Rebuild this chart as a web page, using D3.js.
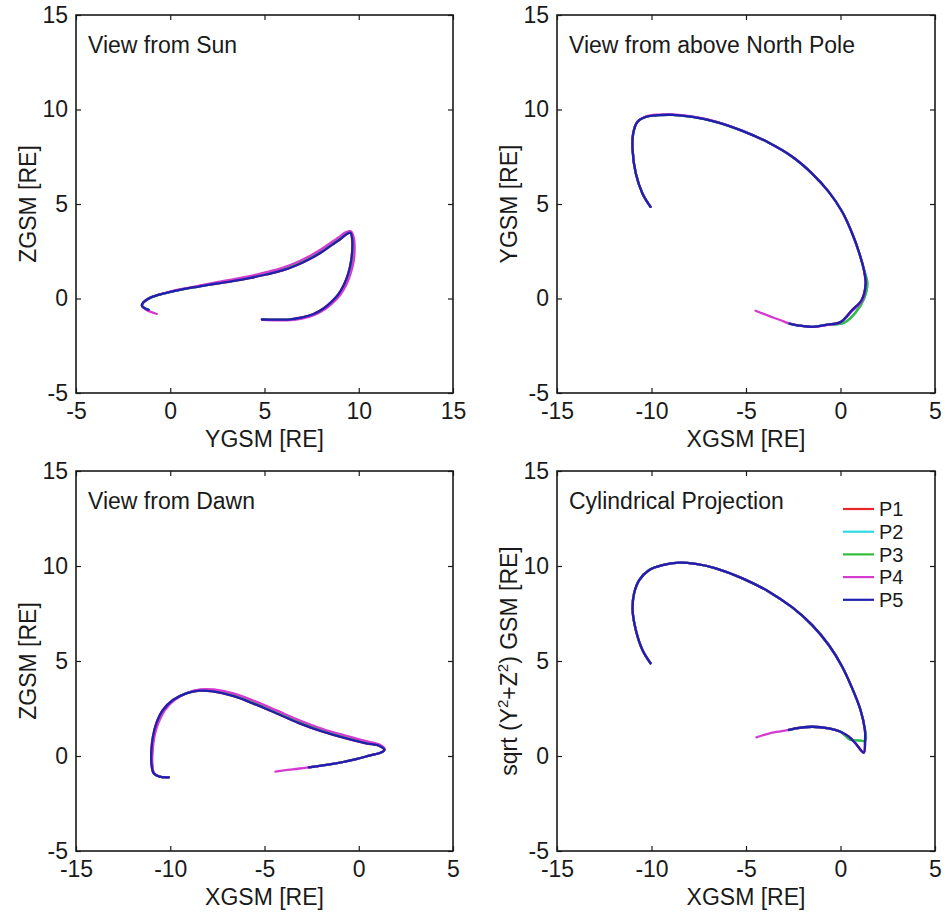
<!DOCTYPE html>
<html><head><meta charset="utf-8">
<script src="https://cdn.jsdelivr.net/npm/d3@7"></script>
<style>
body{margin:0;background:#fff}
text{font-family:"Liberation Sans",Arial,Helvetica,sans-serif;fill:#1a1a1a}
</style>
</head><body>
<svg id="chart" width="952" height="913"></svg>
<script>
// ---------- series ----------
const seriesNames = ["P1","P2","P3","P4","P5"];
const seriesColors = ["#e8262a","#2ed8e6","#2fbf3a","#d53bd0","#1f1fb0"];

// ---------- tick labels ----------
const ticksYGSM = [-5,0,5,10,15];
const ticksXGSM = [-15,-10,-5,0,5];
const ticksVert = [-5,0,5,10,15];

// ---------- View from Sun (YGSM, ZGSM) ----------
const sunP5 = [[4.86,-1.11],[5.6,-1.12],[6.36,-1.1],[7.0,-1.0],[7.6,-0.82],[8.13,-0.53],[8.55,-0.18],[8.9,0.2],[9.2,0.7],[9.45,1.35],[9.6,2.03],[9.66,2.7],[9.65,3.15],[9.56,3.48],[9.35,3.4],[9.0,3.12],[8.6,2.85],[8.1,2.5],[7.5,2.14],[6.8,1.8],[6.0,1.5],[5.1,1.27],[4.2,1.08],[3.3,0.92],[2.4,0.78],[1.5,0.63],[0.7,0.5],[0,0.35],[-0.6,0.2],[-1.1,0.02],[-1.42,-0.2],[-1.5,-0.38],[-1.35,-0.52],[-1.15,-0.6]];
const sunP3 = [[4.88,-1.12],[5.6,-1.13],[6.38,-1.12],[7.02,-1.02],[7.64,-0.84],[8.18,-0.55],[8.6,-0.19],[8.96,0.2],[9.27,0.7],[9.52,1.35],[9.67,2.03],[9.72,2.7],[9.7,3.17],[9.57,3.52],[9.33,3.45],[8.98,3.18],[8.58,2.92],[8.08,2.57],[7.48,2.2],[6.78,1.86],[5.98,1.56],[5.08,1.32],[4.2,1.12],[3.3,0.95],[2.4,0.8],[1.5,0.64],[0.7,0.5],[0,0.35],[-0.6,0.2],[-1.1,0.02],[-1.42,-0.2],[-1.5,-0.38],[-1.35,-0.52],[-1.15,-0.6]];
const sunP4 = [[4.9,-1.13],[5.6,-1.15],[6.4,-1.14],[7.05,-1.05],[7.68,-0.86],[8.22,-0.56],[8.66,-0.2],[9.02,0.2],[9.33,0.7],[9.58,1.35],[9.74,2.03],[9.78,2.7],[9.74,3.2],[9.58,3.56],[9.3,3.5],[8.95,3.24],[8.55,2.98],[8.05,2.63],[7.45,2.27],[6.75,1.93],[5.95,1.62],[5.05,1.38],[4.15,1.17],[3.25,1.0],[2.35,0.84],[1.5,0.67],[0.7,0.52],[0,0.37],[-0.6,0.21],[-1.1,0.03],[-1.42,-0.2],[-1.5,-0.4],[-1.3,-0.58],[-1.0,-0.72],[-0.71,-0.82]];

// ---------- View from above North Pole (XGSM, YGSM) ----------
const northP5 = [[-10.05,4.85],[-10.48,5.56],[-10.83,6.61],[-11.0,7.85],[-10.97,8.73],[-10.74,9.35],[-10.3,9.61],[-9.6,9.7],[-8.89,9.72],[-7.83,9.61],[-6.6,9.35],[-5.19,8.87],[-3.79,8.24],[-2.55,7.5],[-1.5,6.61],[-0.62,5.64],[0.09,4.59],[0.62,3.44],[1.0,2.38],[1.25,1.45],[1.33,0.8],[1.12,-0.08],[0.6,-0.62],[0,-1.25],[-0.7,-1.38],[-1.45,-1.5],[-2.2,-1.43],[-2.7,-1.33]];
const northP3 = [[-10.05,4.85],[-10.48,5.56],[-10.83,6.61],[-11.0,7.85],[-10.97,8.73],[-10.74,9.35],[-10.3,9.61],[-9.6,9.7],[-8.89,9.72],[-7.83,9.61],[-6.6,9.35],[-5.19,8.87],[-3.79,8.24],[-2.55,7.5],[-1.5,6.61],[-0.62,5.64],[0.09,4.59],[0.62,3.44],[1.0,2.38],[1.27,1.45],[1.42,0.8],[1.25,0.0],[0.8,-0.74],[0.2,-1.28],[-0.7,-1.4],[-1.45,-1.5],[-2.2,-1.43],[-2.7,-1.33]];
const northP4 = [[-10.05,4.85],[-10.48,5.56],[-10.83,6.61],[-11.0,7.85],[-10.97,8.73],[-10.74,9.35],[-10.3,9.63],[-9.6,9.73],[-8.89,9.74],[-7.83,9.62],[-6.6,9.36],[-5.19,8.87],[-3.79,8.24],[-2.55,7.5],[-1.5,6.61],[-0.62,5.64],[0.09,4.59],[0.62,3.44],[1.0,2.38],[1.25,1.45],[1.33,0.8],[1.15,-0.1],[0.62,-0.66],[0,-1.27],[-0.7,-1.4],[-1.45,-1.5],[-2.2,-1.43],[-2.7,-1.33],[-3.2,-1.14],[-3.8,-0.92],[-4.49,-0.65]];

// ---------- View from Dawn (XGSM, ZGSM) ----------
const dawnP5 = [[-10.07,-1.12],[-10.57,-1.09],[-10.88,-0.91],[-11.0,-0.39],[-11.0,0.32],[-10.92,1.02],[-10.74,1.72],[-10.39,2.42],[-9.86,2.95],[-9.15,3.3],[-8.45,3.44],[-7.74,3.4],[-6.68,3.16],[-5.62,2.77],[-4.38,2.25],[-3.14,1.72],[-1.91,1.28],[-0.67,0.93],[0.39,0.67],[1.1,0.53],[1.36,0.32],[1.18,0.18],[0.57,0.02],[-0.14,-0.16],[-1.38,-0.42],[-2.65,-0.6]];
const dawnP3 = [[-10.07,-1.12],[-10.57,-1.09],[-10.87,-0.9],[-10.97,-0.39],[-10.96,0.32],[-10.88,1.02],[-10.69,1.72],[-10.33,2.42],[-9.8,2.95],[-9.1,3.32],[-8.42,3.47],[-7.72,3.45],[-6.66,3.23],[-5.61,2.85],[-4.37,2.33],[-3.13,1.8],[-1.9,1.35],[-0.66,1.0],[0.39,0.72],[1.1,0.56],[1.37,0.33],[1.18,0.18],[0.57,0.02],[-0.14,-0.16],[-1.38,-0.42],[-2.65,-0.6]];
const dawnP4 = [[-10.07,-1.12],[-10.57,-1.09],[-10.86,-0.9],[-10.95,-0.39],[-10.93,0.32],[-10.84,1.02],[-10.64,1.72],[-10.28,2.42],[-9.76,2.95],[-9.08,3.33],[-8.4,3.5],[-7.7,3.5],[-6.65,3.3],[-5.6,2.92],[-4.36,2.4],[-3.12,1.87],[-1.9,1.42],[-0.66,1.06],[0.39,0.78],[1.1,0.6],[1.38,0.35],[1.18,0.18],[0.57,0.02],[-0.14,-0.16],[-1.38,-0.42],[-2.65,-0.6],[-3.5,-0.7],[-4.42,-0.82]];

// ---------- Cylindrical Projection (XGSM, sqrt(Y²+Z²)) ----------
const cylP5 = [[-10.05,4.88],[-10.48,5.58],[-10.83,6.63],[-11.0,7.68],[-10.92,8.56],[-10.65,9.26],[-10.12,9.79],[-9.42,10.05],[-8.54,10.18],[-7.66,10.11],[-6.6,9.88],[-5.19,9.35],[-3.79,8.65],[-2.55,7.82],[-1.5,6.89],[-0.62,5.84],[0.09,4.7],[0.62,3.56],[1.06,2.42],[1.29,1.37],[1.3,0.84],[1.23,0.18],[0.79,0.67],[0.44,1.02],[0,1.28],[-0.62,1.46],[-1.5,1.54],[-2.38,1.46],[-2.73,1.37]];
const cylP3 = [[-10.05,4.88],[-10.48,5.58],[-10.83,6.63],[-11.0,7.68],[-10.92,8.56],[-10.65,9.26],[-10.12,9.79],[-9.42,10.05],[-8.54,10.18],[-7.66,10.11],[-6.6,9.88],[-5.19,9.35],[-3.79,8.65],[-2.55,7.82],[-1.5,6.89],[-0.62,5.84],[0.09,4.7],[0.62,3.56],[1.06,2.42],[1.3,1.37],[1.32,0.82],[0.9,0.82],[0.5,0.86],[0,1.28],[-0.62,1.46],[-1.5,1.54],[-2.38,1.46],[-2.73,1.37]];
const cylP4 = [[-10.05,4.88],[-10.48,5.58],[-10.83,6.63],[-11.0,7.68],[-10.92,8.56],[-10.65,9.26],[-10.12,9.79],[-9.42,10.05],[-8.54,10.18],[-7.66,10.11],[-6.6,9.88],[-5.19,9.35],[-3.79,8.65],[-2.55,7.82],[-1.5,6.89],[-0.62,5.84],[0.09,4.7],[0.62,3.56],[1.06,2.42],[1.29,1.37],[1.3,0.84],[1.23,0.18],[0.79,0.67],[0.44,1.02],[0,1.28],[-0.62,1.46],[-1.5,1.54],[-2.38,1.46],[-2.73,1.37],[-3.61,1.23],[-4.45,0.98]];

// ---------- panels ----------
const panels = [
  {left:76, top:15, w:377, h:378, xd:[-5,15], yd:[-5,15], xt:ticksYGSM, yt:ticksVert,
   title:"View from Sun", xl:"YGSM [RE]", yl:"ZGSM [RE]", series:[sunP5,sunP3,sunP3,sunP4,sunP5]},
  {left:557, top:15, w:378, h:378, xd:[-15,5], yd:[-5,15], xt:ticksXGSM, yt:ticksVert,
   title:"View from above North Pole", xl:"XGSM [RE]", yl:"YGSM [RE]", series:[northP5,northP3,northP3,northP4,northP5]},
  {left:76, top:471, w:377, h:380, xd:[-15,5], yd:[-5,15], xt:ticksXGSM, yt:ticksVert,
   title:"View from Dawn", xl:"XGSM [RE]", yl:"ZGSM [RE]", series:[dawnP5,dawnP3,dawnP3,dawnP4,dawnP5]},
  {left:557, top:471, w:378, h:380, xd:[-15,5], yd:[-5,15], xt:ticksXGSM, yt:ticksVert,
   title:"Cylindrical Projection", xl:"XGSM [RE]", yl:null, series:[cylP5,cylP3,cylP3,cylP4,cylP5], legend:true}
];

const svg = d3.select("#chart");
const FS = 23;
const fmt = d => String(d);   // plain hyphen-minus like the reference

panels.forEach(p => {
  const g = svg.append("g").attr("transform", `translate(${p.left},${p.top})`);
  const x = d3.scaleLinear().domain(p.xd).range([0, p.w]);
  const y = d3.scaleLinear().domain(p.yd).range([p.h, 0]);

  const clipId = "clip" + p.left + "_" + p.top;
  g.append("clipPath").attr("id", clipId).append("rect").attr("width", p.w).attr("height", p.h);

  // series lines
  const line = d3.line().x(d => x(d[0])).y(d => y(d[1])).curve(d3.curveCatmullRom.alpha(0.5));
  const lg = g.append("g").attr("clip-path", `url(#${clipId})`);
  p.series.forEach((s, i) => {
    lg.append("path").datum(s).attr("d", line)
      .attr("fill", "none").attr("stroke", seriesColors[i])
      .attr("stroke-width", 2.3).attr("stroke-linejoin", "round").attr("stroke-linecap", "round");
  });

  // axes (inward ticks)
  const styleAxis = sel => {
    sel.select(".domain").remove();
    sel.selectAll(".tick line").attr("stroke", "#1a1a1a").attr("stroke-width", 1.2);
    sel.selectAll(".tick text").attr("font-size", FS).attr("fill", "#1a1a1a")
      .style("font-family", '"Liberation Sans",Arial,Helvetica,sans-serif');
  };
  g.append("g").attr("transform", `translate(0,${p.h})`)
    .call(d3.axisBottom(x).tickValues(p.xt).tickSize(-5).tickPadding(10).tickFormat(fmt))
    .call(styleAxis);
  g.append("g")
    .call(d3.axisLeft(y).tickValues(p.yt).tickSize(-5).tickPadding(8).tickFormat(fmt))
    .call(styleAxis);
  g.append("g")
    .call(d3.axisTop(x).tickValues(p.xt).tickSize(-5).tickFormat(""))
    .call(styleAxis);
  g.append("g").attr("transform", `translate(${p.w},0)`)
    .call(d3.axisRight(y).tickValues(p.yt).tickSize(-5).tickFormat(""))
    .call(styleAxis);

  // frame
  g.append("rect").attr("width", p.w).attr("height", p.h)
    .attr("fill", "none").attr("stroke", "#1a1a1a").attr("stroke-width", 1.6);

  // title inside
  g.append("text").attr("x", 12).attr("y", 38).attr("font-size", FS).text(p.title);

  // x label
  g.append("text").attr("x", p.w / 2).attr("y", p.h + 54).attr("text-anchor", "middle")
    .attr("font-size", FS).text(p.xl);

  // y label
  const yl = g.append("text")
    .attr("transform", `translate(-40,${p.h / 2}) rotate(-90)`)
    .attr("text-anchor", "middle").attr("font-size", FS);
  if (p.yl) {
    yl.text(p.yl);
  } else {
    yl.append("tspan").text("sqrt (Y");
    yl.append("tspan").attr("font-size", 15).attr("dy", -9).text("2");
    yl.append("tspan").attr("dy", 9).text("+Z");
    yl.append("tspan").attr("font-size", 15).attr("dy", -9).text("2");
    yl.append("tspan").attr("dy", 9).text(") GSM [RE]");
  }

  // legend
  if (p.legend) {
    const leg = g.append("g").attr("transform", `translate(${843 - p.left},${509 - p.top})`);
    seriesNames.forEach((n, i) => {
      const row = leg.append("g").attr("transform", `translate(0,${i * 22.7})`);
      row.append("line").attr("x1", 0).attr("x2", 31).attr("y1", 0).attr("y2", 0)
        .attr("stroke", seriesColors[i]).attr("stroke-width", 2.2);
      row.append("text").attr("x", 36).attr("y", 0).attr("dy", "0.36em")
        .attr("font-size", 20).text(n);
    });
  }
});
</script>
</body></html>
